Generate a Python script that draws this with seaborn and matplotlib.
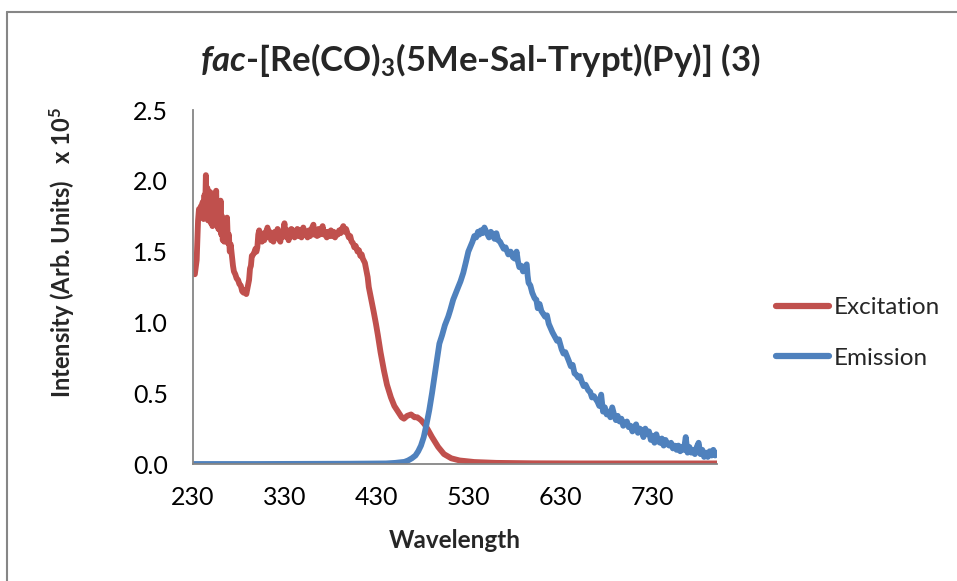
import matplotlib
matplotlib.use("Agg")
import matplotlib.pyplot as plt
import seaborn as sns
import pandas as pd
from matplotlib.lines import Line2D

# ---------------- data ----------------
# (wavelength, intensity x 1e5)
excitation = [
    (230, 1.35), (232, 1.34), (234, 1.44), (235.5, 1.72), (236.5, 1.80), (237.5, 1.74), (238.5, 1.82),
    (239.5, 1.76), (240.5, 1.85), (241.5, 1.73), (242.5, 1.90), (243.2, 1.78), (244, 2.04), (244.8, 1.75),
    (245.6, 1.95), (246.4, 1.72), (247.2, 1.88), (248, 1.74), (248.8, 1.92), (249.6, 1.70), (250.4, 1.84),
    (251.2, 1.68), (252, 1.87), (252.8, 1.73), (253.6, 1.90), (254.4, 1.76), (255.2, 1.93), (256, 1.70),
    (256.8, 1.84), (257.6, 1.66), (258.4, 1.80), (259.2, 1.65), (260, 1.86), (260.8, 1.62), (261.6, 1.75),
    (262.4, 1.58), (263.2, 1.70), (264, 1.57), (265, 1.72), (266, 1.60), (267, 1.74), (268, 1.56),
    (269, 1.62), (270, 1.50), (271, 1.55), (272.5, 1.46), (273.5, 1.40), (274.5, 1.36), (276, 1.34),
    (277.5, 1.31), (279, 1.30), (280.5, 1.27), (282, 1.26), (283.5, 1.22), (285, 1.21), (286.5, 1.23),
    (288, 1.20), (289.5, 1.25), (291, 1.30), (292, 1.38), (293, 1.40), (294, 1.47), (295.6, 1.48),
    (297, 1.50), (298, 1.52), (299, 1.50), (300, 1.53), (301, 1.62), (302, 1.65), (303, 1.58),
    (304, 1.63), (305, 1.57), (306.5, 1.62), (307.5, 1.58), (309, 1.64), (310, 1.60), (311, 1.67),
    (312, 1.61), (313.5, 1.64), (315, 1.58), (316, 1.61), (317.5, 1.57), (319, 1.64), (320.5, 1.60),
    (322, 1.66), (323.5, 1.59), (325, 1.57), (326, 1.63), (327, 1.60), (328.5, 1.66), (329.5, 1.70),
    (330.5, 1.62), (332, 1.60), (333, 1.65), (334, 1.58), (335.5, 1.63), (337, 1.66), (338, 1.61),
    (339, 1.65), (340.5, 1.60), (342, 1.62), (343.5, 1.66), (345, 1.61), (346.5, 1.65), (348, 1.60),
    (349, 1.64), (350, 1.67), (351.5, 1.62), (353, 1.64), (354.6, 1.60), (356, 1.65), (357.5, 1.61),
    (359, 1.66), (361, 1.69), (362, 1.62), (363.5, 1.65), (365, 1.61), (366.5, 1.66), (368, 1.62),
    (369.5, 1.65), (371, 1.68), (372.5, 1.62), (374, 1.64), (375.5, 1.60), (377, 1.64), (378.5, 1.61),
    (380, 1.65), (381.5, 1.61), (383, 1.64), (384.5, 1.60), (386, 1.63), (387.5, 1.62), (389, 1.65),
    (390.5, 1.63), (392, 1.66), (393.5, 1.68), (395, 1.64), (396.5, 1.66), (398, 1.63), (399.5, 1.60),
    (401, 1.61), (402.5, 1.57), (404, 1.56), (405.5, 1.53), (407, 1.54), (409, 1.50), (410.5, 1.51),
    (412, 1.47), (413.5, 1.48), (414.7, 1.45), (417, 1.42), (420, 1.32), (421.2, 1.25), (424, 1.16),
    (426.7, 1.07), (429, 0.99), (431.1, 0.91), (434, 0.79), (437.7, 0.66), (441, 0.56), (445.3, 0.47),
    (449, 0.41), (454, 0.36), (457, 0.33), (459.5, 0.32), (463, 0.34), (467.2, 0.35), (471, 0.33),
    (474, 0.33), (478, 0.31), (482, 0.28), (485.7, 0.24), (490, 0.19), (496.7, 0.12), (503, 0.07),
    (511, 0.04), (520, 0.025), (536, 0.014), (560, 0.008), (600, 0.005), (650, 0.004), (700, 0.004),
    (750, 0.004), (800, 0.004),
]
emission = [
    (230, 0.0), (300, 0.0), (400, 0.002), (440, 0.004), (450, 0.008), (456, 0.012), (460, 0.015),
    (464, 0.025), (468, 0.04), (472, 0.06), (475, 0.09), (478, 0.13), (481, 0.19), (484, 0.28),
    (487, 0.38), (490, 0.50), (492, 0.59), (495, 0.72), (498, 0.85), (501, 0.91), (504, 0.98),
    (507.6, 1.04), (510, 1.09), (513, 1.16), (516, 1.21), (518.5, 1.25), (521, 1.29), (524, 1.35),
    (527, 1.43), (529.5, 1.50), (532, 1.54), (534, 1.57), (536, 1.61), (538, 1.60), (540, 1.64),
    (541.5, 1.62), (543, 1.65), (545, 1.63), (547, 1.67), (549, 1.64), (550.5, 1.62), (552, 1.60),
    (554, 1.64), (556, 1.62), (558, 1.59), (560, 1.63), (562, 1.58), (564, 1.57), (565.5, 1.55),
    (568, 1.52), (570, 1.53), (573, 1.48), (575.5, 1.50), (578, 1.46), (580, 1.45), (582, 1.50),
    (583.5, 1.43), (585, 1.39), (587, 1.40), (589, 1.36), (591, 1.39), (593, 1.41), (594, 1.33),
    (595, 1.28), (597, 1.26), (599, 1.21), (601.6, 1.17), (603.5, 1.16), (605, 1.10), (607, 1.13),
    (609, 1.08), (611, 1.06), (613, 1.04), (615, 1.05), (617, 0.99), (619, 0.96), (621, 0.93),
    (623.5, 0.90), (626, 0.87), (628, 0.88), (631, 0.81), (633, 0.78), (635, 0.79), (638.7, 0.73),
    (641, 0.69), (643, 0.70), (645, 0.64), (647, 0.63), (649, 0.61), (651, 0.62), (653, 0.58),
    (655, 0.55), (657, 0.56), (660, 0.52), (662, 0.51), (664, 0.47), (666, 0.48), (668, 0.46),
    (670, 0.44), (672, 0.41), (674, 0.49), (676, 0.37), (678, 0.40), (680, 0.35), (682, 0.37),
    (684, 0.33), (686, 0.40), (688, 0.35), (690, 0.31), (692, 0.34), (694, 0.30), (696, 0.32),
    (698, 0.27), (700, 0.29), (702, 0.30), (704, 0.26), (706, 0.27), (708, 0.23), (710, 0.26),
    (712, 0.28), (714, 0.22), (716, 0.25), (718, 0.24), (720, 0.19), (722, 0.25), (724, 0.21),
    (726, 0.23), (728, 0.17), (730, 0.20), (732, 0.15), (734, 0.21), (736, 0.16), (738, 0.15),
    (740, 0.18), (742, 0.13), (744, 0.17), (746, 0.14), (748, 0.13), (750, 0.15), (752, 0.11),
    (754, 0.13), (756, 0.10), (758, 0.13), (760, 0.09), (762, 0.12), (764, 0.10), (766, 0.19),
    (768, 0.08), (770, 0.12), (772, 0.08), (774, 0.10), (776, 0.07), (778, 0.12), (780, 0.15),
    (782, 0.07), (784, 0.10), (786, 0.05), (788, 0.08), (790, 0.05), (792, 0.09), (794, 0.06),
    (796, 0.10), (798, 0.06), (800, 0.08),
]

series_names = ["Excitation", "Emission"]
x_ticks = [230, 330, 430, 530, 630, 730]
y_ticks = [0.0, 0.5, 1.0, 1.5, 2.0, 2.5]

# ---------------- styling ----------------
sns.set_theme(style="white")
plt.rcParams["font.family"] = ["Lato", "DejaVu Sans"]
plt.rcParams["mathtext.fontset"] = "custom"
plt.rcParams["mathtext.rm"] = "Lato:bold"
plt.rcParams["mathtext.bf"] = "Lato:bold"
plt.rcParams["mathtext.it"] = "Lato:italic:bold"

RED = "#C0504D"
BLUE = "#4F81BD"
GRAY = "#868686"

df = pd.concat([
    pd.DataFrame(excitation, columns=["Wavelength", "Intensity"]).assign(Series=series_names[0]),
    pd.DataFrame(emission, columns=["Wavelength", "Intensity"]).assign(Series=series_names[1]),
], ignore_index=True)

fig = plt.figure(figsize=(9.57, 5.81), dpi=100)
ax = fig.add_axes([193 / 957, 1 - 464 / 581, (717 - 193) / 957, (464 - 110) / 581])

sns.lineplot(data=df, x="Wavelength", y="Intensity", hue="Series",
             palette={series_names[0]: RED, series_names[1]: BLUE},
             estimator=None, sort=False, linewidth=4.2, ax=ax, legend=False)

ax.set_xlim(230, 800)
ax.set_ylim(0, 2.5)
ax.set_xticks(x_ticks)
ax.set_xticklabels([str(v) for v in x_ticks])
ax.set_yticks(y_ticks)
ax.set_yticklabels([f"{v:.1f}" for v in y_ticks])
ax.tick_params(axis="both", length=0, labelsize=18, colors="black")
ax.tick_params(axis="y", pad=18)
ax.tick_params(axis="x", pad=16)
for s in ["top", "right"]:
    ax.spines[s].set_visible(False)
for s in ["left", "bottom"]:
    ax.spines[s].set_color(GRAY)
    ax.spines[s].set_linewidth(1.3)
ax.grid(False)

ax.set_xlabel("")
ax.set_ylabel("")
fig.text(455 / 957, 1 - 540 / 581, "Wavelength", ha="center", va="center",
         fontsize=17.5, fontweight="bold")
fig.text(62 / 957, 1 - 252 / 581, r"Intensity (Arb. Units)   x 10$^{\mathbf{5}}$",
         ha="center", va="center", rotation=90, fontsize=17, fontweight="bold")

fig.text(480 / 957, 1 - 60 / 581,
         r"$\mathit{fac}$-[Re(CO)$_{\mathbf{3}}$(5Me-Sal-Trypt)(Py)] (3)",
         ha="center", va="center", fontsize=25, fontweight="bold")

handles = [Line2D([], [], color=RED, linewidth=4.5, solid_capstyle="round"),
           Line2D([], [], color=BLUE, linewidth=4.5, solid_capstyle="round")]
fig.legend(handles, series_names, loc="center left",
           bbox_to_anchor=(754 / 957, 1 - 333 / 581), frameon=False,
           fontsize=17.5, handlelength=2.2, handletextpad=0.2, labelspacing=1.2)

# chart-area border (left and top edges visible in the reference)
fig.add_artist(Line2D([7 / 957, 7 / 957], [0, 1 - 12 / 581], transform=fig.transFigure,
                      color=GRAY, linewidth=1.5))
fig.add_artist(Line2D([7 / 957, 1], [1 - 12 / 581, 1 - 12 / 581], transform=fig.transFigure,
                      color=GRAY, linewidth=1.5))

fig.savefig("out.png", dpi=100)
